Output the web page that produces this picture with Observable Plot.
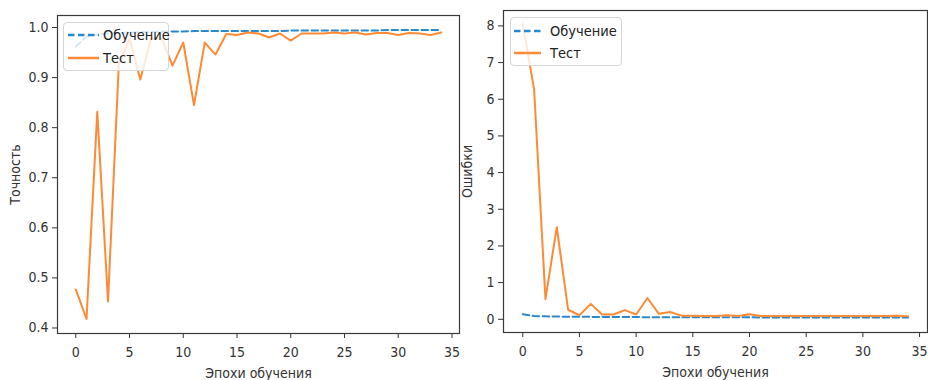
<!DOCTYPE html>
<html>
<head>
<meta charset="utf-8">
<script src="https://cdn.jsdelivr.net/npm/d3@7"></script>
<script src="https://cdn.jsdelivr.net/npm/@observablehq/plot@0.6"></script>
<style>
  html, body { margin: 0; padding: 0; background: #fff; }
  #wrap { position: relative; width: 928px; height: 380px; overflow: hidden; font-family: "DejaVu Sans Condensed", "DejaVu Sans", sans-serif; font-stretch: condensed; }
  .panel { position: absolute; top: 0; }
  .legend { position: absolute; background: rgba(255,255,255,0.8); border: 1px solid #d6d6d6; border-radius: 4px; box-sizing: border-box; color: #222; font-size: 14.5px; }
  .legend .row { position: absolute; left: 0; display: flex; align-items: center; height: 20px; }
  .legend svg { display: block; }
</style>
</head>
<body>
<div id="wrap">
  <div id="left" class="panel" style="left:0px;"></div>
  <div id="right" class="panel" style="left:452px;"></div>
</div>
<script>
const epochs = [0,1,2,3,4,5,6,7,8,9,10,11,12,13,14,15,16,17,18,19,20,21,22,23,24,25,26,27,28,29,30,31,32,33,34];

const accTrain = [0.962,0.982,0.986,0.988,0.989,0.990,0.991,0.991,0.992,0.992,0.992,0.993,0.993,0.993,0.993,0.993,0.993,0.993,0.993,0.993,0.994,0.994,0.994,0.994,0.994,0.994,0.994,0.994,0.994,0.995,0.995,0.995,0.995,0.995,0.995];
const accTest  = [0.477,0.418,0.832,0.453,0.925,0.978,0.896,0.978,0.978,0.924,0.970,0.845,0.970,0.946,0.987,0.985,0.990,0.988,0.980,0.988,0.974,0.988,0.988,0.988,0.990,0.988,0.990,0.986,0.989,0.989,0.985,0.989,0.988,0.985,0.990];

const lossTrain = [0.14,0.09,0.08,0.075,0.07,0.068,0.066,0.064,0.062,0.06,0.06,0.058,0.058,0.056,0.056,0.055,0.055,0.054,0.054,0.053,0.053,0.052,0.052,0.052,0.051,0.051,0.051,0.05,0.05,0.05,0.05,0.05,0.05,0.05,0.05];
const lossTest  = [8.05,6.27,0.55,2.51,0.26,0.11,0.42,0.13,0.13,0.25,0.13,0.58,0.15,0.20,0.10,0.10,0.09,0.09,0.11,0.09,0.14,0.09,0.09,0.09,0.09,0.09,0.09,0.09,0.09,0.09,0.09,0.09,0.09,0.10,0.08];

const xTicks = [0,5,10,15,20,25,30,35];
const accTicks = [0.4,0.5,0.6,0.7,0.8,0.9,1.0];
const lossTicks = [0,1,2,3,4,5,6,7,8];

const xLabel = "Эпохи обучения";
const accLabel = "Точность";
const lossLabel = "Ошибки";
const seriesNames = ["Обучение", "Тест"];

const blue = "#2b88cc";
const orange = "#ff8a35";

const accRows = epochs.map((e, i) => ({e, train: accTrain[i], test: accTest[i]}));
const lossRows = epochs.map((e, i) => ({e, train: lossTrain[i], test: lossTest[i]}));

const font = {fontFamily: "'DejaVu Sans Condensed', 'DejaVu Sans', sans-serif", fontSize: "14px", color: "#333", fontStretch: "condensed", background: "transparent"};

function panel(rows, opts) {
  return Plot.plot({
    width: opts.width,
    height: 380,
    marginLeft: opts.ml,
    marginRight: opts.mr,
    marginTop: opts.mt,
    marginBottom: opts.mb,
    style: font,
    x: {domain: [-1.7, 35.7], ticks: xTicks, tickFormat: d => String(d), label: xLabel, labelAnchor: "center", labelArrow: "none", labelOffset: 44, tickSize: 5, tickPadding: 9},
    y: {domain: opts.ydomain, ticks: opts.yticks, tickFormat: opts.yfmt, label: opts.ylabel, labelAnchor: "center", labelArrow: "none", labelOffset: opts.ylo, tickSize: 5, tickPadding: 4},
    marks: [
      Plot.frame({stroke: "#3a3a3a", strokeWidth: 1.2}),
      Plot.line(rows, {x: "e", y: "train", stroke: blue, strokeWidth: 2, strokeDasharray: "6.5,3.5"}),
      Plot.line(rows, {x: "e", y: "test", stroke: orange, strokeWidth: 2})
    ]
  });
}

document.getElementById("left").appendChild(panel(accRows, {
  width: 462, ml: 57, mr: 3, mt: 15, mb: 47,
  ydomain: [0.389, 1.024], yticks: accTicks, yfmt: d3.format(".1f"), ylabel: accLabel, ylo: 47
}));
document.getElementById("right").appendChild(panel(lossRows, {
  width: 476, ml: 51, mr: 1, mt: 10, mb: 48,
  ydomain: [-0.36, 8.42], yticks: lossTicks, yfmt: d => String(d), ylabel: lossLabel, ylo: 41
}));

function legend(container, box) {
  const div = document.createElement("div");
  div.className = "legend";
  div.style.left = box.x + "px";
  div.style.top = box.y + "px";
  div.style.width = box.w + "px";
  div.style.height = box.h + "px";
  const styles = [{stroke: blue, dash: "6.5,3.5"}, {stroke: orange, dash: null}];
  seriesNames.forEach((name, i) => {
    const row = document.createElement("div");
    row.className = "row";
    row.style.top = (box.rowY[i] - 10) + "px";
    row.style.left = box.lineX + "px";
    const s = d3.create("svg").attr("width", box.lineW).attr("height", 20);
    s.append("line").attr("x1", 0).attr("x2", box.lineW).attr("y1", 10).attr("y2", 10)
      .attr("stroke", styles[i].stroke).attr("stroke-width", 2.5)
      .attr("stroke-dasharray", styles[i].dash);
    row.appendChild(s.node());
    const t = document.createElement("span");
    t.textContent = name;
    t.style.marginLeft = box.gap + "px";
    row.appendChild(t);
    div.appendChild(row);
  });
  container.appendChild(div);
}

const wrap = document.getElementById("wrap");
legend(wrap, {x: 63, y: 22, w: 106, h: 49, rowY: [12, 35], lineX: 4, lineW: 31, gap: 4});
legend(wrap, {x: 510, y: 17, w: 112, h: 49, rowY: [13, 35], lineX: 3, lineW: 27, gap: 9});
</script>
</body>
</html>
